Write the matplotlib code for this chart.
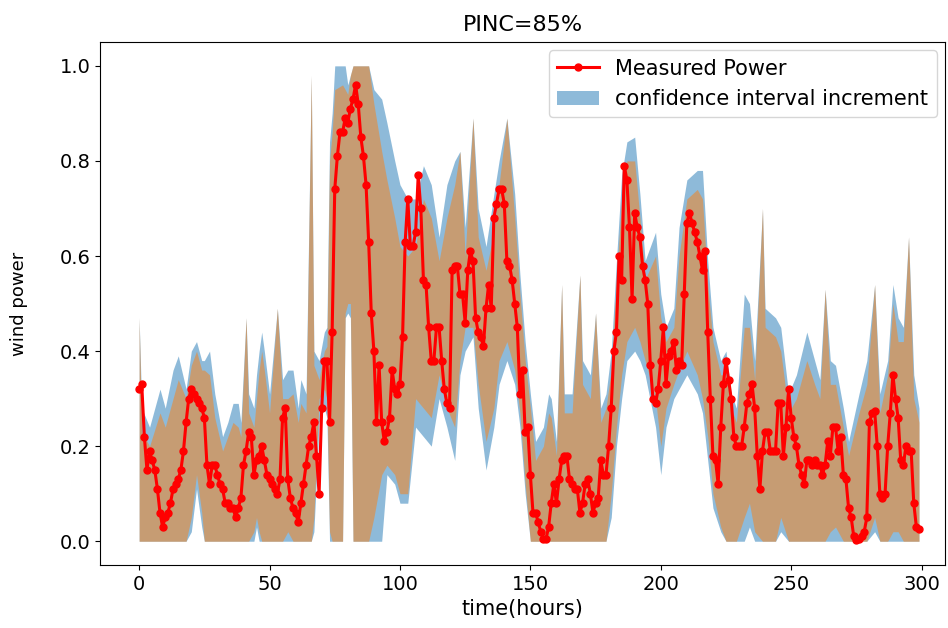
import numpy as np
import matplotlib
matplotlib.use('Agg')
import matplotlib.pyplot as plt

# measured wind power, one point per hour
measured = [
    0.32, 0.33, 0.22, 0.15, 0.19, 0.17, 0.15, 0.11, 0.06, 0.03,
    0.05, 0.06, 0.08, 0.11, 0.12, 0.13, 0.15, 0.19, 0.25, 0.30,
    0.32, 0.31, 0.30, 0.29, 0.28, 0.26, 0.16, 0.12, 0.16, 0.16,
    0.14, 0.12, 0.11, 0.08, 0.08, 0.07, 0.07, 0.05, 0.07, 0.09,
    0.16, 0.19, 0.23, 0.22, 0.14, 0.17, 0.18, 0.20, 0.17, 0.14,
    0.13, 0.12, 0.11, 0.10, 0.13, 0.26, 0.28, 0.13, 0.09, 0.07,
    0.06, 0.04, 0.08, 0.12, 0.16, 0.20, 0.22, 0.25, 0.18, 0.10,
    0.28, 0.38, 0.38, 0.25, 0.44, 0.74, 0.81, 0.86, 0.86, 0.89,
    0.88, 0.91, 0.93, 0.96, 0.92, 0.85, 0.81, 0.75, 0.63, 0.48,
    0.40, 0.25, 0.37, 0.25, 0.21, 0.23, 0.26, 0.36, 0.32, 0.31,
    0.33, 0.43, 0.63, 0.72, 0.62, 0.62, 0.65, 0.77, 0.70, 0.55,
    0.54, 0.45, 0.38, 0.38, 0.45, 0.45, 0.38, 0.32, 0.29, 0.28,
    0.57, 0.58, 0.58, 0.52, 0.52, 0.46, 0.57, 0.61, 0.59, 0.47,
    0.44, 0.43, 0.41, 0.49, 0.54, 0.49, 0.68, 0.71, 0.74, 0.74,
    0.71, 0.59, 0.58, 0.55, 0.50, 0.45, 0.31, 0.36, 0.23, 0.24,
    0.14, 0.06, 0.06, 0.04, 0.02, 0.005, 0.005, 0.03, 0.08, 0.12,
    0.08, 0.13, 0.17, 0.18, 0.18, 0.13, 0.12, 0.11, 0.11, 0.06,
    0.08, 0.12, 0.13, 0.10, 0.06, 0.08, 0.09, 0.17, 0.14, 0.14,
    0.20, 0.28, 0.40, 0.44, 0.60, 0.55, 0.79, 0.76, 0.66, 0.51,
    0.69, 0.66, 0.64, 0.58, 0.55, 0.50, 0.37, 0.30, 0.29, 0.32,
    0.38, 0.45, 0.33, 0.39, 0.40, 0.42, 0.36, 0.38, 0.37, 0.52,
    0.67, 0.69, 0.67, 0.65, 0.63, 0.60, 0.57, 0.61, 0.44, 0.30,
    0.18, 0.17, 0.12, 0.24, 0.33, 0.38, 0.34, 0.30, 0.22, 0.20,
    0.20, 0.20, 0.24, 0.29, 0.31, 0.33, 0.28, 0.18, 0.11, 0.19,
    0.23, 0.23, 0.19, 0.19, 0.19, 0.29, 0.29, 0.18, 0.24, 0.32,
    0.26, 0.22, 0.20, 0.16, 0.14, 0.12, 0.17, 0.17, 0.16, 0.17,
    0.16, 0.16, 0.14, 0.16, 0.21, 0.18, 0.24, 0.24, 0.19, 0.22,
    0.14, 0.13, 0.07, 0.05, 0.01, 0.003, 0.005, 0.01, 0.02, 0.05,
    0.25, 0.27, 0.275, 0.20, 0.10, 0.09, 0.10, 0.20, 0.27, 0.35,
    0.30, 0.26, 0.17, 0.16, 0.20, 0.19, 0.19, 0.08, 0.03, 0.025,
]
hours = np.arange(len(measured))

# interval edges, sampled at the corners seen in the picture
band_hours = [
    0, 1, 4, 8, 10, 13, 15, 18, 20, 22, 24, 25, 27, 29, 32, 34, 36, 38, 39,
    41, 42, 44, 45, 46, 47, 48, 50, 53, 55, 57, 59, 61, 62, 64, 66, 67, 69, 71, 72,
    73, 74, 75, 78, 79, 80, 81, 82, 88, 90, 93, 95, 98, 100, 103, 106, 109, 112,
    115, 118, 121, 123, 125, 128, 130, 133, 136, 138, 141, 144, 146, 148,
    150, 152, 155, 157, 158, 160, 162, 163, 166, 169, 170, 173, 175, 177,
    179, 181, 183, 185, 187, 190, 192, 194, 198, 200, 202, 205, 207, 210,
    214, 216, 218, 220, 223, 225, 227, 229, 232, 234, 236, 239, 240, 244,
    246, 249, 252, 256, 259, 261, 263, 265, 267, 270, 272, 276, 279, 282,
    284, 287, 289, 291, 293, 295, 297, 299,
]
outer_upper = [
    0.47, 0.28, 0.24, 0.32, 0.28, 0.36, 0.39, 0.32, 0.40, 0.42, 0.38, 0.38, 0.40, 0.31, 0.22, 0.25, 0.29, 0.29, 0.25,
    0.47, 0.31, 0.28, 0.35, 0.40, 0.44, 0.40, 0.31, 0.49, 0.34, 0.36, 0.36, 0.28, 0.34, 0.31, 0.98, 0.40, 0.38, 0.44, 0.45,
    0.84, 0.90, 1.00, 1.00, 1.00, 0.96, 0.98, 1.00, 1.00, 0.95, 0.93, 0.88, 0.80, 0.75, 0.72, 0.72, 0.79, 0.75,
    0.64, 0.75, 0.80, 0.82, 0.66, 0.89, 0.70, 0.62, 0.73, 0.80, 0.89, 0.73, 0.56, 0.42,
    0.31, 0.21, 0.24, 0.31, 0.30, 0.21, 0.54, 0.31, 0.31, 0.56, 0.38, 0.35, 0.48, 0.28,
    0.31, 0.40, 0.59, 0.77, 0.84, 0.85, 0.73, 0.59, 0.65, 0.52, 0.45, 0.49, 0.66, 0.76,
    0.78, 0.78, 0.59, 0.45, 0.38, 0.40, 0.31, 0.28, 0.52, 0.50, 0.38, 0.70, 0.49, 0.47,
    0.45, 0.31, 0.35, 0.44, 0.38, 0.34, 0.53, 0.38, 0.37, 0.28, 0.21, 0.31, 0.38, 0.54,
    0.31, 0.38, 0.54, 0.47, 0.45, 0.64, 0.35, 0.28,
]
inner_upper = [
    0.47, 0.23, 0.20, 0.27, 0.24, 0.30, 0.34, 0.30, 0.37, 0.40, 0.36, 0.36, 0.35, 0.26, 0.19, 0.22, 0.25, 0.24, 0.22,
    0.47, 0.27, 0.24, 0.30, 0.36, 0.40, 0.36, 0.27, 0.49, 0.30, 0.30, 0.31, 0.25, 0.29, 0.27, 0.98, 0.37, 0.34, 0.40, 0.41,
    0.80, 0.86, 0.95, 0.96, 0.95, 0.94, 0.98, 1.00, 1.00, 0.92, 0.82, 0.76, 0.68, 0.62, 0.60, 0.62, 0.72, 0.68,
    0.59, 0.68, 0.75, 0.82, 0.60, 0.89, 0.64, 0.57, 0.65, 0.75, 0.89, 0.68, 0.52, 0.38,
    0.28, 0.17, 0.20, 0.27, 0.26, 0.18, 0.54, 0.27, 0.27, 0.56, 0.33, 0.30, 0.48, 0.25,
    0.28, 0.36, 0.55, 0.72, 0.80, 0.80, 0.68, 0.55, 0.60, 0.47, 0.42, 0.45, 0.60, 0.72,
    0.74, 0.72, 0.54, 0.42, 0.35, 0.35, 0.28, 0.25, 0.45, 0.45, 0.34, 0.70, 0.45, 0.43,
    0.40, 0.27, 0.30, 0.38, 0.33, 0.30, 0.53, 0.33, 0.33, 0.24, 0.18, 0.27, 0.33, 0.54,
    0.27, 0.35, 0.50, 0.42, 0.42, 0.64, 0.30, 0.25,
]
inner_lower = [
    0.00, 0.00, 0.00, 0.00, 0.00, 0.00, 0.00, 0.00, 0.05, 0.14, 0.06, 0.00, 0.00, 0.00, 0.00, 0.00, 0.00, 0.00, 0.00,
    0.00, 0.00, 0.02, 0.05, 0.02, 0.00, 0.00, 0.00, 0.00, 0.00, 0.02, 0.00, 0.00, 0.00, 0.00, 0.00, 0.05, 0.30, 0.32, 0.30,
    0.02, 0.00, 0.00, 0.00, 0.48, 0.50, 0.50, 0.00, 0.00, 0.05, 0.14, 0.16, 0.14, 0.10, 0.10, 0.30, 0.28, 0.26,
    0.35, 0.28, 0.24, 0.38, 0.45, 0.45, 0.33, 0.21, 0.28, 0.38, 0.42, 0.36, 0.27, 0.12,
    0.00, 0.00, 0.00, 0.00, 0.00, 0.00, 0.00, 0.00, 0.00, 0.00, 0.00, 0.00, 0.00, 0.00,
    0.00, 0.10, 0.24, 0.35, 0.42, 0.45, 0.42, 0.38, 0.30, 0.20, 0.28, 0.33, 0.36, 0.40,
    0.35, 0.30, 0.22, 0.10, 0.03, 0.00, 0.00, 0.00, 0.05, 0.08, 0.02, 0.00, 0.00, 0.00,
    0.05, 0.00, 0.00, 0.00, 0.00, 0.00, 0.00, 0.02, 0.03, 0.00, 0.00, 0.00, 0.00, 0.05,
    0.00, 0.00, 0.02, 0.02, 0.00, 0.00, 0.00, 0.00,
]
outer_lower = [
    0.00, 0.00, 0.00, 0.00, 0.00, 0.00, 0.00, 0.00, 0.02, 0.11, 0.03, 0.00, 0.00, 0.00, 0.00, 0.00, 0.00, 0.00, 0.00,
    0.00, 0.00, 0.00, 0.03, 0.00, 0.00, 0.00, 0.00, 0.00, 0.00, 0.00, 0.00, 0.00, 0.00, 0.00, 0.00, 0.02, 0.25, 0.28, 0.26,
    0.00, 0.00, 0.00, 0.00, 0.47, 0.48, 0.47, 0.00, 0.00, 0.00, 0.00, 0.14, 0.12, 0.08, 0.08, 0.24, 0.22, 0.20,
    0.30, 0.24, 0.17, 0.35, 0.40, 0.43, 0.28, 0.15, 0.24, 0.33, 0.38, 0.33, 0.24, 0.10,
    0.00, 0.00, 0.00, 0.00, 0.00, 0.00, 0.00, 0.00, 0.00, 0.00, 0.00, 0.00, 0.00, 0.00,
    0.00, 0.05, 0.20, 0.30, 0.38, 0.40, 0.38, 0.35, 0.24, 0.14, 0.24, 0.30, 0.32, 0.35,
    0.31, 0.27, 0.17, 0.07, 0.02, 0.00, 0.00, 0.00, 0.00, 0.03, 0.00, 0.00, 0.00, 0.00,
    0.02, 0.00, 0.00, 0.00, 0.00, 0.00, 0.00, 0.00, 0.00, 0.00, 0.00, 0.00, 0.00, 0.02,
    0.00, 0.00, 0.00, 0.00, 0.00, 0.00, 0.00, 0.00,
]
assert len(band_hours) == len(outer_upper) == len(inner_upper) == len(inner_lower) == len(outer_lower)

fig = plt.figure(figsize=(9.48, 6.28), dpi=100)
ax = fig.add_axes([0.1055, 0.1003, 0.8914, 0.8327])

band = ax.fill_between(band_hours, outer_lower, outer_upper, color='C0', alpha=0.5, linewidth=0)
ax.fill_between(band_hours, inner_lower, inner_upper, color='C1', alpha=0.5, linewidth=0)
line, = ax.plot(hours, measured, 'r.-', linewidth=2.2, markersize=10)

ax.set_xlim(-15, 309)
ax.set_ylim(-0.05, 1.05)
ax.set_xticks([0, 50, 100, 150, 200, 250, 300])
ax.set_yticks([0.0, 0.2, 0.4, 0.6, 0.8, 1.0])
ax.tick_params(labelsize=14)
ax.set_xlabel('time(hours)', fontsize=15, labelpad=4)
ax.set_ylabel('wind power', fontsize=13)
ax.yaxis.set_label_coords(-0.085, 0.5)
ax.set_title('PINC=85%', fontsize=16, pad=8)
ax.legend([line, band], ['Measured Power', 'confidence interval increment'],
          loc='upper right', fontsize=15, borderaxespad=0.4)

plt.savefig('out.png', dpi=100)
